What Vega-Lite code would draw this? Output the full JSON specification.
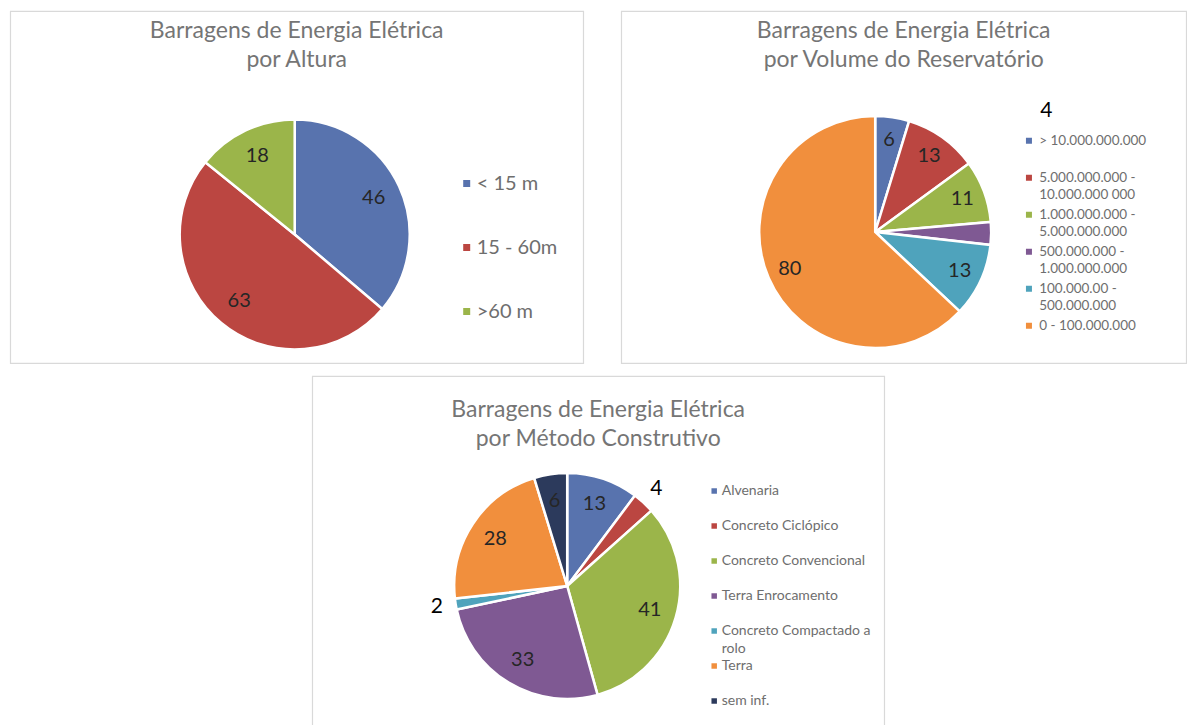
{
  "$schema": "https://vega.github.io/schema/vega-lite/v6.json",
  "padding": {"left": 9, "top": 10, "right": 0, "bottom": 0},
  "background": "white",
  "spacing": 11,
  "center": true,
  "resolve": {"scale": {"color": "independent", "theta": "independent"}, "legend": {"color": "independent"}},
  "config": {
    "font": "Lato",
    "view": {"stroke": "#d9d9d9", "strokeWidth": 1.2},
    "style": {"view": {"stroke": "#d9d9d9", "strokeWidth": 1.2}, "guide-label": {"lineHeight": 17.5}},
    "title": {"font": "Lato", "fontSize": 23, "fontWeight": "normal", "color": "#757575", "lineHeight": 29, "anchor": "middle", "frame": "group", "baseline": "top"},
    "legend": {"orient": "none", "padding": 0, "symbolType": "square", "symbolStrokeWidth": 0, "labelFont": "Lato", "labelColor": "#6e6e6e", "labelLimit": 300}
  },
  "vconcat": [
    {
      "hconcat": [
        {
          "width": 573, "height": 352,
          "view": {"stroke": "#d9d9d9", "strokeWidth": 1.2},
          "title": {"text": ["Barragens de Energia Elétrica", "por Altura"], "offset": -60.5},
          "data": {"values": [
            {"altura": "< 15 m", "n": 46},
            {"altura": "15 - 60m", "n": 63},
            {"altura": ">60 m", "n": 18}
          ]},
          "transform": [{"window": [{"op": "row_number", "as": "i"}]}],
          "encoding": {
            "theta": {"field": "n", "type": "quantitative", "stack": true},
            "order": {"field": "i", "type": "quantitative"}
          },
          "layer": [
            {
              "mark": {"type": "arc", "radius": 115, "stroke": "white", "strokeWidth": 2.5, "xOffset": -2, "yOffset": 47.5},
              "encoding": {
                "color": {"field": "altura", "type": "nominal", "sort": null,
                  "scale": {"domain": ["< 15 m", "15 - 60m", ">60 m"], "range": ["#5873ae", "#bb4641", "#9bb54a"]},
                  "legend": {"title": null, "legendX": 446.5, "legendY": 162.5, "labelFontSize": 20, "symbolSize": 49, "labelOffset": 0, "rowPadding": 44}}
              }
            },
            {
              "mark": {"type": "text", "radius": 87, "fontSize": 20, "color": "#262626", "xOffset": -2, "yOffset": 47.5},
              "encoding": {"text": {"field": "n", "type": "quantitative"}}
            }
          ]
        },
        {
          "width": 565, "height": 352,
          "view": {"stroke": "#d9d9d9", "strokeWidth": 1.2},
          "title": {"text": ["Barragens de Energia Elétrica", "por Volume do Reservatório"], "offset": -60.5},
          "data": {"values": [
            {"volume": "> 10.000.000.000", "n": 6},
            {"volume": "5.000.000.000 - 10.000.000 000", "n": 13},
            {"volume": "1.000.000.000 - 5.000.000.000", "n": 11},
            {"volume": "500.000.000 - 1.000.000.000", "n": 4},
            {"volume": "100.000.00 - 500.000.000", "n": 13},
            {"volume": "0 - 100.000.000", "n": 80}
          ]},
          "transform": [{"window": [{"op": "row_number", "as": "i"}]}],
          "encoding": {
            "theta": {"field": "n", "type": "quantitative", "stack": true},
            "order": {"field": "i", "type": "quantitative"}
          },
          "layer": [
            {
              "mark": {"type": "arc", "radius": 116, "stroke": "white", "strokeWidth": 2.5, "xOffset": -28.5, "yOffset": 45},
              "encoding": {
                "color": {"field": "volume", "type": "nominal", "sort": null,
                  "scale": {"domain": ["> 10.000.000.000", "5.000.000.000 - 10.000.000 000", "1.000.000.000 - 5.000.000.000", "500.000.000 - 1.000.000.000", "100.000.00 - 500.000.000", "0 - 100.000.000"],
                            "range": ["#5873ae", "#bb4641", "#9bb54a", "#7f5993", "#4fa3bc", "#f18f3d"]},
                  "legend": {"title": null, "legendX": 401, "legendY": 123, "labelFontSize": 13.5, "symbolSize": 36, "labelOffset": 3.5, "rowPadding": 5,
                    "labelExpr": "indexof(datum.label, ' - ') > 3 && length(datum.label) > 16 ? [slice(datum.label, 0, indexof(datum.label, ' - ') + 2), slice(datum.label, indexof(datum.label, ' - ') + 3)] : [datum.label, '']",
                    "encode": {"labels": {"update": {"dy": {"value": 9}}}}}}
              }
            },
            {
              "mark": {"type": "text", "radius": 93, "fontSize": 20, "color": "#262626", "xOffset": -28.5, "yOffset": 45},
              "encoding": {"text": {"condition": {"test": "datum.n >= 5", "field": "n", "type": "quantitative"}, "value": ""}}
            },
            {
              "mark": {"type": "text", "radius": 160, "thetaOffset": -0.628, "dx": 40.4, "dy": -28.5, "fontSize": 21, "color": "#000000", "xOffset": -28.5, "yOffset": 45},
              "encoding": {"text": {"condition": {"test": "datum.n < 5", "field": "n", "type": "quantitative"}, "value": ""}}
            }
          ]
        }
      ],
      "spacing": 36,
      "resolve": {"scale": {"color": "independent", "theta": "independent"}, "legend": {"color": "independent"}}
    },
    {
      "width": 572, "height": 352,
      "view": {"stroke": "#d9d9d9", "strokeWidth": 1.2},
      "title": {"text": ["Barragens de Energia Elétrica", "por Método Construtivo"], "offset": -74.5},
      "data": {"values": [
        {"metodo": "Alvenaria", "n": 13},
        {"metodo": "Concreto Ciclópico", "n": 4},
        {"metodo": "Concreto Convencional", "n": 41},
        {"metodo": "Terra Enrocamento", "n": 33},
        {"metodo": "Concreto Compactado a rolo", "n": 2},
        {"metodo": "Terra", "n": 28},
        {"metodo": "sem inf.", "n": 6}
      ]},
      "transform": [{"window": [{"op": "row_number", "as": "i"}]}],
      "encoding": {
        "theta": {"field": "n", "type": "quantitative", "stack": true},
        "order": {"field": "i", "type": "quantitative"}
      },
      "layer": [
        {
          "mark": {"type": "arc", "radius": 113, "stroke": "white", "strokeWidth": 2.5, "xOffset": -31, "yOffset": 34},
          "encoding": {
            "color": {"field": "metodo", "type": "nominal", "sort": null,
              "scale": {"domain": ["Alvenaria", "Concreto Ciclópico", "Concreto Convencional", "Terra Enrocamento", "Concreto Compactado a rolo", "Terra", "sem inf."],
                        "range": ["#5873ae", "#bb4641", "#9bb54a", "#7f5993", "#4fa3bc", "#f18f3d", "#2c3a5c"]},
              "legend": {"title": null, "legendX": 395, "legendY": 108, "labelFontSize": 14, "symbolSize": 30, "labelOffset": 0.5, "rowPadding": 3,
                "labelExpr": "datum.label == 'Concreto Compactado a rolo' ? ['Concreto Compactado a', 'rolo'] : [datum.label, '']",
                "encode": {"labels": {"update": {"dy": {"value": 8.75}}}}}}
          }
        },
        {
          "mark": {"type": "text", "radius": 86, "fontSize": 20, "color": "#262626", "xOffset": -31, "yOffset": 34},
          "encoding": {"text": {"condition": {"test": "datum.n >= 5", "field": "n", "type": "quantitative"}, "value": ""}}
        },
        {
          "mark": {"type": "text", "radius": 132, "fontSize": 21, "color": "#000000", "xOffset": -31, "yOffset": 34},
          "encoding": {"text": {"condition": {"test": "datum.n < 5", "field": "n", "type": "quantitative"}, "value": ""}}
        }
      ]
    }
  ]
}
